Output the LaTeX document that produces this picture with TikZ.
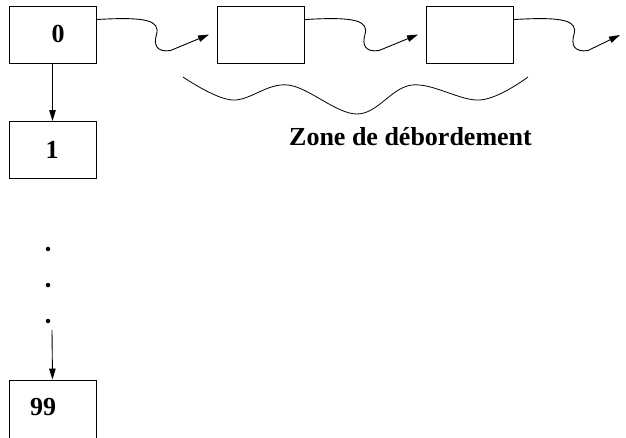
\documentclass[tikz,border=0pt]{standalone}
\usepackage{fontspec}
\setmainfont{Liberation Serif}
\usetikzlibrary{arrows.meta,calc}
\begin{document}
\begin{tikzpicture}[x=1pt,y=-1pt,line width=0.9pt,
  cell/.style={draw,minimum width=87pt,minimum height=57pt,inner sep=0pt,line width=0.9pt},
  lbl/.style={font=\bfseries\fontsize{26}{31}\selectfont,inner sep=0pt},
  tip/.style={-{Triangle[length=11pt,width=6.5pt]}},
  dot/.style={circle,fill,inner sep=0pt,minimum size=4.5pt}]
\useasboundingbox (0,0) rectangle (626,438);
\clip (0,0) rectangle (626,438);
% boxes
\node[cell] (b0) at (52.5,34.5) {};
\node[cell] (b1) at (52.5,150) {};
\node[cell] (b2) at (261,34.5) {};
\node[cell] (b3) at (470,34.5) {};
\node[cell,minimum height=90pt] (b99) at (52.5,425) {};
% labels
\node[lbl] (t0) at (58,34) {0};
\node[lbl] (t1) at (52,150) {1};
\node[lbl] (t99) at (43,407) {99};
\node[lbl,anchor=base] (zone) at (410.5,146) {Zone de débordement};
% dots
\node[dot] (d1) at (48,249) {};
\node[dot] (d2) at (48,285) {};
\node[dot] (d3) at (48,321) {};
\coordinate (a99) at (52,330);
\coordinate (end3) at (620,35);
% vertical arrows
\draw[tip] (b0.south) -- (b1.north);
\draw[tip] (a99) -- (b99.north);
% wavy arrows
\foreach \s/\e in {b0/b2,b2/b3} {
  \draw[tip] ($(\s.north east)+(0,14)$) .. controls +(50,-3) and +(4,-14) .. ++(60,15)
     .. controls +(-3,10) and +(-14,2) .. ++(14,16) -- ($(\e.west)+(-8,0)$);
}
\draw[tip] ($(b3.north east)+(0,14)$) .. controls +(50,-3) and +(4,-14) .. ++(60,15)
     .. controls +(-3,10) and +(-14,2) .. ++(14,16) -- (end3);
% wave
\draw[line width=0.8pt] plot[smooth,tension=0.6] coordinates {(183,77) (232,100) (288,85) (357,114) (412,85) (480,100) (528,77)};
\end{tikzpicture}
\end{document}
